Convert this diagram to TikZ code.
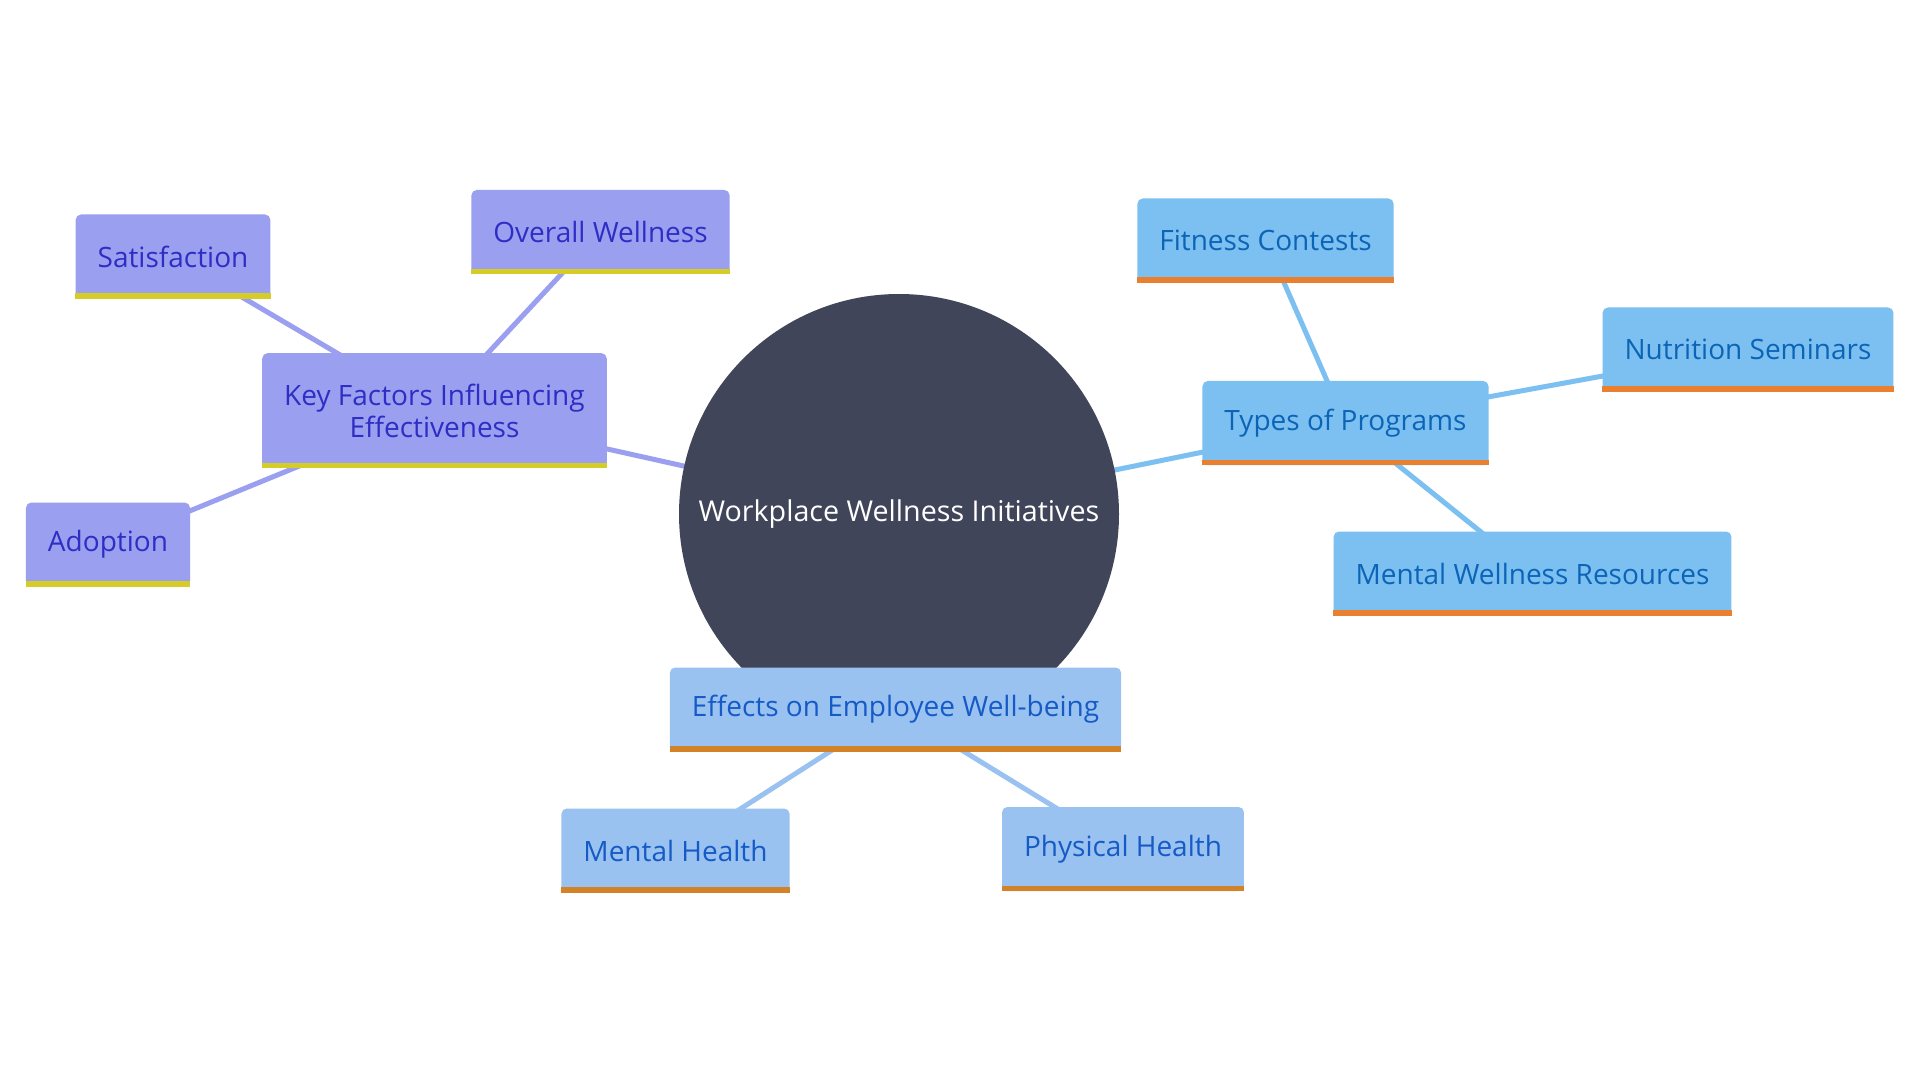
\documentclass[tikz,border=0pt]{standalone}
\usepackage{fontspec}
\setmainfont{Open Sans}
\usepackage{tikz}
\pgfdeclarelayer{background}
\pgfsetlayers{background,main}
\definecolor{hubfill}{RGB}{65,69,90}
\definecolor{factorfill}{RGB}{154,159,240}
\definecolor{factortext}{RGB}{46,46,196}
\definecolor{factorline}{RGB}{214,204,40}
\definecolor{programfill}{RGB}{124,192,242}
\definecolor{programtext}{RGB}{12,100,182}
\definecolor{programline}{RGB}{232,128,48}
\definecolor{effectfill}{RGB}{154,194,240}
\definecolor{effecttext}{RGB}{22,90,198}
\definecolor{effectline}{RGB}{212,130,40}
\tikzstyle{branch}=[text centered, align=center, rounded corners=4pt,
  inner xsep=16.5pt, minimum height=63pt, font=\fontsize{21}{24}\selectfont]
\tikzstyle{factor} = [branch, fill=factorfill, text=factortext]
\tikzstyle{program} = [branch, fill=programfill, text=programtext]
\tikzstyle{effect} = [branch, fill=effectfill, text=effecttext]
\tikzstyle{stripe} = [line width=4pt]
\tikzstyle{link} = [draw, line width=3.75pt]

\begin{document}
\begin{tikzpicture}[x=0.75pt,y=-0.75pt]

  \useasboundingbox (0,0) rectangle (1920,1080);

  \path (899,514) node (hub) [circle, fill=hubfill, minimum size=330pt, text=white,
    font=\fontsize{21.5}{25}\selectfont] {Workplace Wellness Initiatives};

  \path (hub)+(-464.5,-103.5) node (kf) [factor, minimum height=86pt] {Key Factors Influencing\\Effectiveness};
  \path (kf)+(166,-178.5) node (ow) [factor] {Overall Wellness};
  \path (kf)+(-261.5,-154) node (sat) [factor] {Satisfaction};
  \path (kf)+(-326.5,134) node (adop) [factor] {Adoption};

  \path (hub)+(446.5,-91) node (tp) [program] {Types of Programs};
  \path (tp)+(-80,-182.5) node (fit) [program] {Fitness Contests};
  \path (tp)+(402.5,-73.5) node (nut) [program] {Nutrition Seminars};
  \path (tp)+(187,150.5) node (mwr) [program] {Mental Wellness Resources};

  \path (hub)+(-3.5,195.5) node (eff) [effect] {Effects on Employee Well-being};
  \path (eff)+(-220,141) node (mh) [effect] {Mental Health};
  \path (eff)+(227.5,139.5) node (ph) [effect] {Physical Health};

  \draw [stripe, factorline] ([yshift=2pt]kf.south west) -- ([yshift=2pt]kf.south east);
  \draw [stripe, factorline] ([yshift=2pt]ow.south west) -- ([yshift=2pt]ow.south east);
  \draw [stripe, factorline] ([yshift=2pt]sat.south west) -- ([yshift=2pt]sat.south east);
  \draw [stripe, factorline] ([yshift=2pt]adop.south west) -- ([yshift=2pt]adop.south east);
  \draw [stripe, programline] ([yshift=2pt]tp.south west) -- ([yshift=2pt]tp.south east);
  \draw [stripe, programline] ([yshift=2pt]fit.south west) -- ([yshift=2pt]fit.south east);
  \draw [stripe, programline] ([yshift=2pt]nut.south west) -- ([yshift=2pt]nut.south east);
  \draw [stripe, programline] ([yshift=2pt]mwr.south west) -- ([yshift=2pt]mwr.south east);
  \draw [stripe, effectline] ([yshift=2pt]eff.south west) -- ([yshift=2pt]eff.south east);
  \draw [stripe, effectline] ([yshift=2pt]mh.south west) -- ([yshift=2pt]mh.south east);
  \draw [stripe, effectline] ([yshift=2pt]ph.south west) -- ([yshift=2pt]ph.south east);

  \begin{pgfonlayer}{background}
    \fill[white] (0,0) rectangle (1920,1080);
    \path [link, factorfill] (hub.center) -- (kf.center);
    \path [link, factorfill] (kf.center) -- (ow.center);
    \path [link, factorfill] (kf.center) -- (sat.center);
    \path [link, factorfill] (kf.center) -- (adop.center);
    \path [link, programfill] (hub.center) -- (tp.center);
    \path [link, programfill] (tp.center) -- (fit.center);
    \path [link, programfill] (tp.center) -- (nut.center);
    \path [link, programfill] (tp.center) -- (mwr.center);
    \path [link, effectfill] (hub.center) -- (eff.center);
    \path [link, effectfill] (eff.center) -- (mh.center);
    \path [link, effectfill] (eff.center) -- (ph.center);
  \end{pgfonlayer}
\end{tikzpicture}
\end{document}
